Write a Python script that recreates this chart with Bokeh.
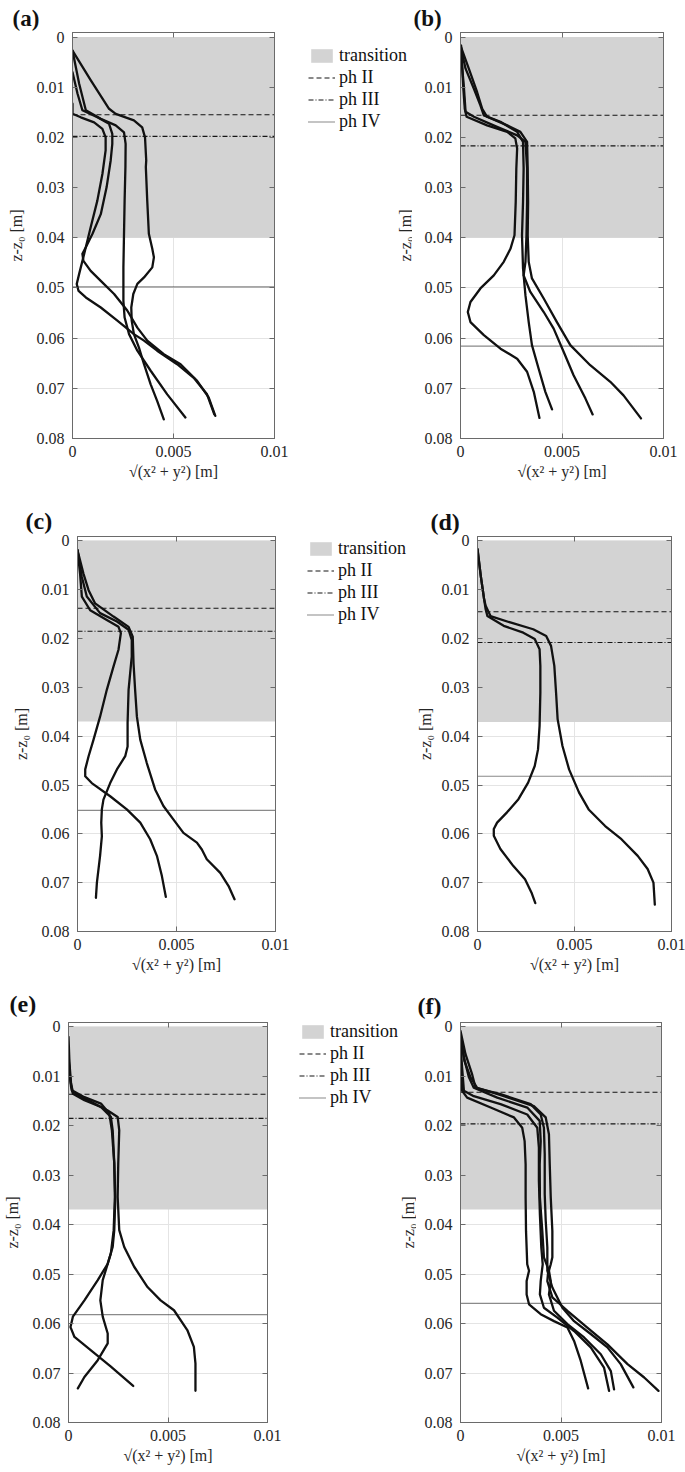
import math
from bokeh.plotting import figure
from bokeh.models import Range1d, FixedTicker, LinearAxis, Legend, LegendItem, Title, Label
from bokeh.layouts import row, column
from bokeh.embed import file_html
from bokeh.resources import INLINE

NaN = float("nan")

# ---------------- axis data ----------------
x_limits = [0.0, 0.01]
y_limits = [-0.0009, 0.08]          # top, bottom (axis reversed)
x_ticks = [0.0, 0.005, 0.01]
x_tick_labels = ["0", "0.005", "0.01"]
y_ticks = [0.0, 0.01, 0.02, 0.03, 0.04, 0.05, 0.06, 0.07, 0.08]
y_tick_labels = ["0", "0.01", "0.02", "0.03", "0.04", "0.05", "0.06", "0.07", "0.08"]
x_label = "√(x² + y²) [m]"
y_label = "z-z₀ [m]"
panel_tags = ["(a)", "(b)", "(c)", "(d)", "(e)", "(f)"]
legend_labels = ["transition", "ph II", "ph III", "ph IV"]

# transition zone (from surface to depth) and phase levels per panel a..f
transition_top = 0.0
transition_depth = [0.0400, 0.0400, 0.0370, 0.0371, 0.0369, 0.0369]
ph2_level = [0.0155, 0.0156, 0.0138, 0.0145, 0.0136, 0.0132]
ph3_level = [0.0198, 0.0217, 0.0185, 0.0208, 0.0185, 0.0196]
ph4_level = [0.0498, 0.0616, 0.0552, 0.0482, 0.0582, 0.0559]

# ---------------- trajectories: radial distance r [m] vs depth z [m] ----------------
a_r = [
    [0, 0.00090, 0.00181, 0.00214, 0.00304, 0.00345, 0.00359, 0.00365, 0.00363, 0.00370, 0.00378, 0.00395, 0.00403, 0.00395, 0.00354, 0.00321, 0.00301, 0.00291, 0.00293, 0.00304, 0.00329, 0.00354, 0.00387, 0.00419, 0.00452],
    [0, 0.00033, 0.00066, 0.00140, 0.00214, 0.00255, 0.00263, 0.00262, 0.00258, 0.00255, 0.00252, 0.00252, 0.00258, 0.00280, 0.00321, 0.00387, 0.00469, 0.00559],
    [0, 0.00025, 0.00049, 0.00123, 0.00181, 0.00197, 0.00197, 0.00189, 0.00169, 0.00140, 0.00099, 0.00066, 0.00049, 0.00054, 0.00090, 0.00140, 0.00206, 0.00271, 0.00321, 0.00370, 0.00452, 0.00535, 0.00617, 0.00674, 0.00707],
    [0, 0, 0.00041, 0.00107, 0.00148, 0.00164, 0.00164, 0.00148, 0.00123, 0.00090, 0.00058, 0.00033, 0.00021, 0.00030, 0.00066, 0.00140, 0.00222, 0.00304, 0.00354, 0.00419, 0.00518, 0.00600, 0.00666, 0.00702],
]
a_z = [
    [0.0027, 0.0086, 0.0143, 0.0153, 0.0166, 0.0180, 0.0200, 0.0246, 0.0259, 0.0326, 0.0392, 0.0422, 0.0439, 0.0459, 0.0479, 0.0492, 0.0512, 0.0539, 0.0565, 0.0592, 0.0619, 0.0652, 0.0692, 0.0725, 0.0762],
    [0.0027, 0.0093, 0.0146, 0.0163, 0.0176, 0.0190, 0.0213, 0.0259, 0.0326, 0.0392, 0.0459, 0.0526, 0.0559, 0.0592, 0.0625, 0.0665, 0.0712, 0.0758],
    [0.0070, 0.0113, 0.0146, 0.0160, 0.0173, 0.0193, 0.0213, 0.0246, 0.0299, 0.0353, 0.0392, 0.0419, 0.0432, 0.0446, 0.0466, 0.0486, 0.0512, 0.0545, 0.0579, 0.0605, 0.0632, 0.0652, 0.0685, 0.0718, 0.0755],
    [0.0133, 0.0153, 0.0160, 0.0170, 0.0183, 0.0200, 0.0226, 0.0273, 0.0326, 0.0379, 0.0432, 0.0472, 0.0492, 0.0506, 0.0519, 0.0539, 0.0565, 0.0592, 0.0605, 0.0625, 0.0652, 0.0679, 0.0712, 0.0752],
]

b_r = [
    [0.00003, 0.00013, 0.00021, 0.00030, 0.00131, 0.00230, 0.00270, 0.00279, 0.00275, 0.00272, 0.00266, 0.00246, 0.00213, 0.00164, 0.00098, 0.00049, 0.00036, 0.00049, 0.00115, 0.00197, 0.00279, 0.00328, 0.00361, 0.00389],
    [0, 0.00025, 0.00066, 0.00098, 0.00115, 0.00197, 0.00279, 0.00308, 0.00311, 0.00308, 0.00303, 0.00308, 0.00320, 0.00336, 0.00352, 0.00385, 0.00418, 0.00451],
    [0, 0.00016, 0.00025, 0.00066, 0.00180, 0.00279, 0.00320, 0.00328, 0.00328, 0.00325, 0.00320, 0.00311, 0.00344, 0.00410, 0.00459, 0.00508, 0.00557, 0.00615, 0.00651],
    [0, 0.00041, 0.00082, 0.00107, 0.00131, 0.00230, 0.00295, 0.00328, 0.00331, 0.00333, 0.00331, 0.00336, 0.00352, 0.00410, 0.00475, 0.00541, 0.00639, 0.00738, 0.00803, 0.00889],
]
b_z = [
    [0.0017, 0.0096, 0.0143, 0.0159, 0.0176, 0.0189, 0.0202, 0.0222, 0.0262, 0.0329, 0.0395, 0.0422, 0.0448, 0.0475, 0.0501, 0.0528, 0.0548, 0.0568, 0.0594, 0.0621, 0.0641, 0.0667, 0.0707, 0.0759],
    [0.0017, 0.0063, 0.0103, 0.0136, 0.0156, 0.0169, 0.0189, 0.0209, 0.0262, 0.0329, 0.0395, 0.0461, 0.0515, 0.0568, 0.0614, 0.0661, 0.0707, 0.0742],
    [0.0023, 0.0096, 0.0149, 0.0159, 0.0179, 0.0196, 0.0209, 0.0262, 0.0329, 0.0395, 0.0448, 0.0475, 0.0508, 0.0548, 0.0581, 0.0627, 0.0674, 0.0720, 0.0752],
    [0.0017, 0.0063, 0.0110, 0.0143, 0.0159, 0.0176, 0.0189, 0.0209, 0.0262, 0.0329, 0.0395, 0.0448, 0.0481, 0.0521, 0.0568, 0.0614, 0.0654, 0.0687, 0.0714, 0.0760],
]

c_r = [
    [0, 0.00013, 0.00022, 0.00064, 0.00148, 0.00207, 0.00219, 0.00207, 0.00182, 0.00148, 0.00114, 0.00081, 0.00056, 0.00039, 0.00039, 0.00072, 0.00165, 0.00249, 0.00317, 0.00367, 0.00401, 0.00426, 0.00446],
    [0, 0.00022, 0.00047, 0.00114, 0.00199, 0.00258, 0.00274, 0.00274, 0.00266, 0.00258, 0.00253, 0.00253, 0.00241, 0.00199, 0.00165, 0.00131, 0.00123, 0.00120, 0.00123, 0.00114, 0.00098, 0.00093],
    [0, 0.00030, 0.00056, 0.00089, 0.00182, 0.00258, 0.00279, 0.00283, 0.00291, 0.00300, 0.00317, 0.00350, 0.00392, 0.00434, 0.00485, 0.00535, 0.00603, 0.00628, 0.00653, 0.00721, 0.00763, 0.00793],
]
c_z = [
    [0.0019, 0.0067, 0.0114, 0.0142, 0.0162, 0.0176, 0.0189, 0.0223, 0.0257, 0.0305, 0.0360, 0.0407, 0.0441, 0.0468, 0.0482, 0.0496, 0.0523, 0.0550, 0.0577, 0.0611, 0.0645, 0.0686, 0.0729],
    [0.0019, 0.0074, 0.0114, 0.0148, 0.0165, 0.0182, 0.0203, 0.0237, 0.0271, 0.0305, 0.0373, 0.0421, 0.0441, 0.0468, 0.0496, 0.0530, 0.0550, 0.0577, 0.0605, 0.0645, 0.0700, 0.0731],
    [0.0019, 0.0067, 0.0101, 0.0128, 0.0155, 0.0176, 0.0196, 0.0251, 0.0305, 0.0360, 0.0407, 0.0455, 0.0509, 0.0543, 0.0571, 0.0598, 0.0618, 0.0632, 0.0652, 0.0680, 0.0707, 0.0734],
]

d_r = [
    [0, 0.00017, 0.00034, 0.00042, 0.00051, 0.00135, 0.00236, 0.00295, 0.00320, 0.00324, 0.00324, 0.00320, 0.00312, 0.00295, 0.00261, 0.00211, 0.00152, 0.00101, 0.00084, 0.00084, 0.00118, 0.00185, 0.00245, 0.00278, 0.00298],
    [0, 0.00017, 0.00034, 0.00042, 0.00067, 0.00169, 0.00287, 0.00354, 0.00379, 0.00396, 0.00405, 0.00413, 0.00438, 0.00472, 0.00523, 0.00573, 0.00658, 0.00742, 0.00826, 0.00877, 0.00907, 0.00914],
]
d_z = [
    [0.0017, 0.0072, 0.0119, 0.0140, 0.0154, 0.0174, 0.0188, 0.0201, 0.0222, 0.0256, 0.0311, 0.0379, 0.0427, 0.0461, 0.0495, 0.0529, 0.0556, 0.0577, 0.0590, 0.0604, 0.0631, 0.0666, 0.0693, 0.0720, 0.0742],
    [0.0017, 0.0072, 0.0119, 0.0133, 0.0154, 0.0167, 0.0181, 0.0195, 0.0215, 0.0256, 0.0311, 0.0365, 0.0420, 0.0468, 0.0515, 0.0550, 0.0584, 0.0611, 0.0645, 0.0672, 0.0700, 0.0745],
]

e_r = [
    [0, 0.00005, 0.00013, 0.00022, 0.00097, 0.00197, 0.00247, 0.00255, 0.00250, 0.00247, 0.00255, 0.00280, 0.00330, 0.00397, 0.00463, 0.00530, 0.00597, 0.00630, 0.00638, 0.00638],
    [0, 0.00005, 0.00013, 0.00022, 0.00080, 0.00163, 0.00213, 0.00222, 0.00230, 0.00235, 0.00230, 0.00222, 0.00197, 0.00147, 0.00080, 0.00022, 0.00010, 0.00030, 0.00113, 0.00213, 0.00325],
    [0, 0.00008, 0.00017, 0.00080, 0.00163, 0.00205, 0.00218, 0.00230, 0.00233, 0.00227, 0.00213, 0.00172, 0.00160, 0.00172, 0.00197, 0.00197, 0.00147, 0.00080, 0.00047],
]
e_z = [
    [0.0020, 0.0074, 0.0115, 0.0131, 0.0148, 0.0169, 0.0182, 0.0209, 0.0276, 0.0344, 0.0411, 0.0445, 0.0485, 0.0526, 0.0553, 0.0573, 0.0613, 0.0647, 0.0681, 0.0736],
    [0.0047, 0.0094, 0.0121, 0.0135, 0.0148, 0.0162, 0.0182, 0.0209, 0.0276, 0.0344, 0.0411, 0.0445, 0.0479, 0.0512, 0.0553, 0.0586, 0.0607, 0.0627, 0.0654, 0.0687, 0.0726],
    [0.0061, 0.0101, 0.0128, 0.0142, 0.0155, 0.0175, 0.0209, 0.0276, 0.0344, 0.0411, 0.0458, 0.0512, 0.0553, 0.0586, 0.0620, 0.0640, 0.0674, 0.0708, 0.0731],
]

f_r = [
    [0, 0.00003, 0.00008, 0.00033, 0.00150, 0.00266, 0.00307, 0.00319, 0.00324, 0.00324, 0.00326, 0.00332, 0.00341, 0.00329, 0.00329, 0.00341, 0.00399, 0.00465, 0.00532, 0.00565, 0.00598, 0.00635],
    [0, 0.00008, 0.00017, 0.00066, 0.00199, 0.00332, 0.00382, 0.00390, 0.00390, 0.00395, 0.00402, 0.00409, 0.00399, 0.00395, 0.00415, 0.00482, 0.00565, 0.00648, 0.00714, 0.00739],
    [0, 0.00017, 0.00042, 0.00066, 0.00183, 0.00332, 0.00394, 0.00399, 0.00394, 0.00395, 0.00407, 0.00415, 0.00440, 0.00449, 0.00440, 0.00465, 0.00532, 0.00615, 0.00698, 0.00748, 0.00764],
    [0, 0.00025, 0.00058, 0.00075, 0.00199, 0.00349, 0.00399, 0.00415, 0.00419, 0.00419, 0.00424, 0.00432, 0.00432, 0.00457, 0.00507, 0.00565, 0.00648, 0.00731, 0.00797, 0.00860],
    [0, 0.00020, 0.00050, 0.00083, 0.00216, 0.00365, 0.00424, 0.00440, 0.00444, 0.00449, 0.00457, 0.00457, 0.00449, 0.00435, 0.00432, 0.00457, 0.00532, 0.00631, 0.00731, 0.00831, 0.00914, 0.00985],
]
f_z = [
    [0.0022, 0.0082, 0.0129, 0.0143, 0.0163, 0.0183, 0.0204, 0.0231, 0.0278, 0.0345, 0.0413, 0.0480, 0.0493, 0.0514, 0.0541, 0.0561, 0.0581, 0.0595, 0.0608, 0.0635, 0.0675, 0.0731],
    [0.0035, 0.0082, 0.0129, 0.0140, 0.0156, 0.0177, 0.0204, 0.0244, 0.0311, 0.0379, 0.0446, 0.0480, 0.0514, 0.0541, 0.0568, 0.0588, 0.0615, 0.0648, 0.0689, 0.0736],
    [0.0015, 0.0062, 0.0102, 0.0123, 0.0143, 0.0163, 0.0190, 0.0231, 0.0278, 0.0345, 0.0413, 0.0466, 0.0493, 0.0514, 0.0541, 0.0574, 0.0601, 0.0628, 0.0662, 0.0696, 0.0733],
    [0.0008, 0.0055, 0.0096, 0.0123, 0.0136, 0.0156, 0.0177, 0.0204, 0.0257, 0.0338, 0.0392, 0.0446, 0.0493, 0.0527, 0.0568, 0.0595, 0.0621, 0.0648, 0.0682, 0.0729],
    [0.0022, 0.0069, 0.0102, 0.0123, 0.0140, 0.0160, 0.0183, 0.0217, 0.0278, 0.0345, 0.0413, 0.0466, 0.0480, 0.0500, 0.0514, 0.0547, 0.0574, 0.0608, 0.0642, 0.0682, 0.0709, 0.0736],
]

panel_r = [a_r, b_r, c_r, d_r, e_r, f_r]
panel_z = [a_z, b_z, c_z, d_z, e_z, f_z]

# ---------------- styling ----------------
FONT = "Liberation Serif"
FRAME = "#6a6a6a"
TEXT = "#262626"
GRAY = "#d3d3d3"
GRID = "#e4e4e4"
INK = "#151515"
PH_STYLES = [("5 3", 1.1), ("5 2 1 2", 1.1), ("1 1", 1.2)]


def style_axis(ax, ticks, labels, show_labels, standoff):
    ax.ticker = FixedTicker(ticks=ticks)
    ax.major_label_overrides = {t: l for t, l in zip(ticks, labels)}
    ax.minor_tick_line_color = None
    ax.major_tick_in = 5
    ax.major_tick_out = 0
    ax.major_tick_line_color = FRAME
    ax.axis_line_color = FRAME
    ax.major_label_text_font = FONT
    ax.major_label_standoff = standoff
    if show_labels:
        ax.major_label_text_font_size = "16px"
        ax.major_label_text_color = TEXT
    else:
        ax.major_label_text_font_size = "0px"
        ax.major_label_text_color = None
        ax.major_label_standoff = 0


def make_panel(i, width, height, borders, tag_offset, tag_standoff, tag_size="24px",
               tag_valign="bottom", show_ylabel=True, ylabel_standoff=9):
    mbl, mbr, mbt, mbb = borders
    p = figure(width=width, height=height, output_backend="svg", toolbar_location=None,
               title=None,
               x_range=Range1d(x_limits[0], x_limits[1]),
               y_range=Range1d(y_limits[1], y_limits[0]),
               min_border_left=mbl, min_border_right=mbr,
               min_border_top=mbt, min_border_bottom=mbb,
               x_axis_label=x_label, y_axis_label=(y_label if show_ylabel else None))
    p.outline_line_color = FRAME
    p.outline_line_width = 1
    p.border_fill_color = "white"
    p.background_fill_color = "white"

    style_axis(p.xaxis[0], x_ticks, x_tick_labels, True, 7)
    style_axis(p.yaxis[0], y_ticks, y_tick_labels, True, 8)
    for ax in (p.xaxis[0], p.yaxis[0]):
        ax.axis_label_text_font = FONT
        ax.axis_label_text_font_style = "normal"
        ax.axis_label_text_font_size = "16px"
        ax.axis_label_text_color = TEXT
    p.xaxis[0].axis_label_standoff = 3
    p.yaxis[0].axis_label_standoff = ylabel_standoff

    top_ax = LinearAxis()
    style_axis(top_ax, x_ticks, x_tick_labels, False, 0)
    p.add_layout(top_ax, "above")
    right_ax = LinearAxis()
    style_axis(right_ax, y_ticks, y_tick_labels, False, 0)
    p.add_layout(right_ax, "right")

    tag = Title(text=panel_tags[i], align="left", offset=tag_offset, standoff=tag_standoff,
                text_font=FONT, text_font_style="bold", text_font_size=tag_size,
                text_color="#111111", vertical_align=tag_valign)
    p.add_layout(tag, "above")

    p.xgrid.ticker = FixedTicker(ticks=x_ticks)
    p.ygrid.ticker = FixedTicker(ticks=y_ticks)
    p.xgrid.grid_line_color = GRID
    p.ygrid.grid_line_color = GRID

    p.quad(left=x_limits[0], right=x_limits[1], top=transition_top,
           bottom=transition_depth[i], fill_color=GRAY, line_color=None)
    for level, (dash, lw) in zip([ph2_level[i], ph3_level[i], ph4_level[i]], PH_STYLES):
        p.line(x_limits, [level, level], line_color=INK, line_width=lw, line_dash=dash)

    for r, z in zip(panel_r[i], panel_z[i]):
        p.line(r, z, line_color="#111111", line_width=2.3, line_join="round", line_cap="round")
    return p


def make_middle(width, height, borders_tb, legend_xy, ylabel_xy=None):
    """Gap column between two panels: holds the legend (and the y label of the right panel)."""
    mbt, mbb = borders_tb
    m = figure(width=width, height=height, output_backend="svg", toolbar_location=None,
               title=None, x_range=Range1d(0, 1), y_range=Range1d(0, 1),
               x_axis_type=None, y_axis_type=None,
               min_border_left=0, min_border_right=0, min_border_top=mbt, min_border_bottom=mbb)
    m.outline_line_color = None
    m.background_fill_color = "white"
    m.border_fill_color = "white"
    # legend keys: renderers holding no drawable point (NaN), only used for the legend swatches
    k0 = m.quad(left=[NaN], right=[NaN], top=[NaN], bottom=[NaN], fill_color=GRAY, line_color=None)
    keys = [k0]
    for dash, lw in PH_STYLES:
        keys.append(m.line(x=[NaN, NaN], y=[NaN, NaN], line_color=INK, line_width=lw, line_dash=dash))
    items = [LegendItem(label=lab, renderers=[rr]) for lab, rr in zip(legend_labels, keys)]
    leg = Legend(items=items, location=legend_xy, orientation="vertical",
                 padding=0, margin=0, spacing=1,
                 glyph_width=27, glyph_height=17, label_height=20,
                 label_standoff=4, label_text_font=FONT,
                 label_text_font_size="18px", label_text_color="#111111",
                 background_fill_alpha=0, border_line_color=None)
    m.add_layout(leg)
    if ylabel_xy is not None:
        m.add_layout(Label(x=ylabel_xy[0], y=ylabel_xy[1], x_units="screen", y_units="screen",
                           text=y_label, angle=math.pi / 2, text_align="center",
                           text_baseline="middle", text_font=FONT, text_font_size="16px",
                           text_color=TEXT))
    return m


# row 1 (page y 0..490): a | gap | b     (frames y 32..438)
fa = make_panel(0, 290, 490, (72, 16, 32, 52), -60, 0, tag_size="23px", tag_valign="top")
m1 = make_middle(122, 490, (32, 52), (18, 306), ylabel_xy=(114.5, 203))
fb = make_panel(1, 273, 490, (48, 22, 32, 52), -47, 0, tag_size="23px", tag_valign="top",
                show_ylabel=False)
# row 2 (page y 490..980): c | gap | d   (frames y 536..931)
fc = make_panel(2, 290, 490, (77, 15, 46, 49), -52, 5)
m2 = make_middle(123, 490, (46, 49), (17, 306))
fd = make_panel(3, 272, 490, (60, 14, 46, 49), -47, 3, ylabel_standoff=5)
# row 3 (page y 980..1472): e | gap | f  (frames y 1022..1422)
fe = make_panel(4, 290, 492, (67, 23, 42, 50), -59, 12)
m3 = make_middle(126, 492, (42, 50), (9, 314), ylabel_xy=(118, 200))
ff = make_panel(5, 269, 492, (44, 24, 42, 50), -43, 7, show_ylabel=False)

layout = column(row(fa, m1, fb, spacing=0), row(fc, m2, fd, spacing=0),
                row(fe, m3, ff, spacing=0), spacing=0)

open("out.html", "w").write(file_html(layout, INLINE))
